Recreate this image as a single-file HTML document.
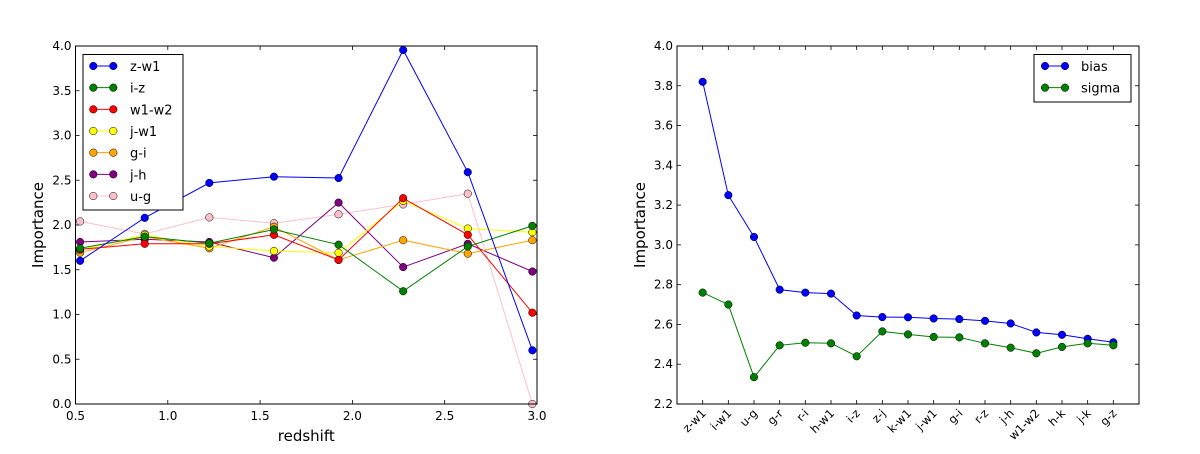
<!DOCTYPE html>
<html><head><meta charset="utf-8"><style>
html,body{margin:0;padding:0;background:#fff;}
svg text{font-family:"DejaVu Sans","Liberation Sans",sans-serif;fill:#000;}
</style></head><body>
<svg id="fig" width="1200" height="449" viewBox="0 0 1200 449" xmlns="http://www.w3.org/2000/svg">
<g id="left"></g>
<g id="right"></g>
</svg>
<script>
// Left chart data
const redshifts = [0.525, 0.875, 1.225, 1.575, 1.925, 2.275, 2.625, 2.975];
const seriesNames = ["z-w1","i-z","w1-w2","j-w1","g-i","j-h","u-g"];
const seriesColors = ["#0000ff","#008000","#ff0000","#ffff00","#ffa500","#800080","#ffc0cb"];
const zw1 = [1.60, 2.08, 2.47, 2.54, 2.525, 3.955, 2.59, 0.60];
const iz  = [1.74, 1.87, 1.795, 1.95, 1.78, 1.26, 1.76, 1.99];
const w1w2 = [1.73, 1.79, 1.79, 1.89, 1.61, 2.30, 1.89, 1.02];
const jw1 = [1.72, 1.89, 1.76, 1.71, 1.69, 2.27, 1.96, 1.92];
const gi  = [1.69, 1.87, 1.74, 1.98, 1.61, 1.83, 1.68, 1.83];
const jh  = [1.81, 1.84, 1.81, 1.635, 2.25, 1.53, 1.79, 1.48];
const ug  = [2.04, 1.90, 2.085, 2.02, 2.12, 2.23, 2.35, 0.0];
const leftXTicks = [0.5, 1.0, 1.5, 2.0, 2.5, 3.0];
const leftYTicks = [0.0, 0.5, 1.0, 1.5, 2.0, 2.5, 3.0, 3.5, 4.0];
// Right chart data
const features = ["z-w1","i-w1","u-g","g-r","r-i","h-w1","i-z","z-j","k-w1","j-w1","g-i","r-z","j-h","w1-w2","h-k","j-k","g-z"];
const bias  = [3.82, 3.25, 3.04, 2.775, 2.76, 2.755, 2.645, 2.637, 2.636, 2.63, 2.627, 2.618, 2.605, 2.56, 2.548, 2.528, 2.51];
const sigma = [2.76, 2.70, 2.335, 2.495, 2.508, 2.505, 2.44, 2.565, 2.55, 2.537, 2.535, 2.505, 2.483, 2.455, 2.487, 2.505, 2.495];
const rightYTicks = [2.2, 2.4, 2.6, 2.8, 3.0, 3.2, 3.4, 3.6, 3.8, 4.0];

const NS = "http://www.w3.org/2000/svg";
function mk(parent, tag, attrs, text){
  const e = document.createElementNS(NS, tag);
  for (const k in attrs) e.setAttribute(k, attrs[k]);
  if (text !== undefined) e.textContent = text;
  parent.appendChild(e);
  return e;
}

// ---------- Left ----------
const L = document.getElementById('left');
const lx0=75.5, lx1=537, ly0=46, ly1=404;
const lxs = v => lx0 + (v-0.5)/2.5*(lx1-lx0);
const lys = v => ly1 - v/4*(ly1-ly0);
leftXTicks.forEach(t=>{
  const x=lxs(t);
  const tk=mk(L,'line',{x1:x,x2:x,y1:ly1,y2:ly1-4,stroke:'#000','stroke-width':0.8});
  
  
  mk(L,'line',{x1:x,x2:x,y1:ly0,y2:ly0+4,stroke:'#000','stroke-width':0.8});
  const lb=mk(L,'text',{x:x,y:ly1+16,'font-size':12,'text-anchor':'middle'},t.toFixed(1));
  
  
});
leftYTicks.forEach(t=>{
  const y=lys(t);
  mk(L,'line',{x1:lx0,x2:lx0+4,y1:y,y2:y,stroke:'#000','stroke-width':0.8});
  mk(L,'line',{x1:lx1,x2:lx1-4,y1:y,y2:y,stroke:'#000','stroke-width':0.8});
  const lb=mk(L,'text',{x:lx0-4,y:y+4,'font-size':12,'text-anchor':'end'},t.toFixed(1));
  
  
});
const lxt=mk(L,'text',{x:(lx0+lx1)/2,y:441,'font-size':15,'text-anchor':'middle'},'redshift');


const lyt=mk(L,'text',{x:0,y:0,'font-size':15,'text-anchor':'middle',transform:`translate(43,${(ly0+ly1)/2}) rotate(-90)`},'Importance');



const allSeries=[zw1,iz,w1w2,jw1,gi,jh,ug];
const drawOrder=[6,5,4,3,2,1,0];
drawOrder.forEach(si=>{
  const vals=allSeries[si], col=seriesColors[si];
  const g=mk(L,'g',{});
  
  
  const pts=vals.map((v,i)=>lxs(redshifts[i]).toFixed(1)+','+lys(v).toFixed(1)).join(' ');
  mk(g,'polyline',{points:pts,fill:'none',stroke:col,'stroke-width':1});
  vals.forEach((v,i)=>{
    const c=mk(g,'circle',{cx:lxs(redshifts[i]),cy:lys(v),r:3.8,fill:col,stroke:'#000','stroke-width':0.5});
    
    
  });
});
mk(L,'rect',{x:lx0,y:ly0,width:lx1-lx0,height:ly1-ly0,fill:'none',stroke:'#000','stroke-width':1});
// legend
const lg=mk(L,'g',{});


mk(lg,'rect',{x:83,y:54.5,width:100,height:155.5,fill:'#fff',stroke:'#000','stroke-width':1});
seriesNames.forEach((n,i)=>{
  const y=66+i*21.67, col=seriesColors[i];
  const e=mk(lg,'g',{});
  
  
  mk(e,'line',{x1:93.3,x2:113.3,y1:y,y2:y,stroke:col,'stroke-width':1});
  mk(e,'circle',{cx:93.3,cy:y,r:3.8,fill:col,stroke:'#000','stroke-width':0.5});
  mk(e,'circle',{cx:113.3,cy:y,r:3.8,fill:col,stroke:'#000','stroke-width':0.5});
  mk(e,'text',{x:130,y:y+5,'font-size':13},n);
});

// ---------- Right ----------
const R=document.getElementById('right');
const rx0=677, rx1=1139, ry0=46, ry1=404;
const rxs=i=> rx0 + (i+1)/18*(rx1-rx0);
const rys=v=> ry1 - (v-2.2)/1.8*(ry1-ry0);
features.forEach((f,i)=>{
  const x=rxs(i);
  mk(R,'line',{x1:x,x2:x,y1:ry1,y2:ry1-4,stroke:'#000','stroke-width':0.8});
  mk(R,'line',{x1:x,x2:x,y1:ry0,y2:ry0+4,stroke:'#000','stroke-width':0.8});
  const lb=mk(R,'text',{x:0,y:0,'font-size':11.5,'text-anchor':'end',transform:`translate(${x+4},${ry1+10}) rotate(-45)`},f);
  
  
});
rightYTicks.forEach(t=>{
  const y=rys(t);
  mk(R,'line',{x1:rx0,x2:rx0+4,y1:y,y2:y,stroke:'#000','stroke-width':0.8});
  mk(R,'line',{x1:rx1,x2:rx1-4,y1:y,y2:y,stroke:'#000','stroke-width':0.8});
  const lb=mk(R,'text',{x:rx0-4,y:y+4,'font-size':12,'text-anchor':'end'},t.toFixed(1));
  
  
});
const ryt=mk(R,'text',{x:0,y:0,'font-size':15,'text-anchor':'middle',transform:`translate(645,${(ry0+ry1)/2}) rotate(-90)`},'Importance');


[[bias,'#0000ff','bias'],[sigma,'#008000','sigma']].forEach(([vals,col,nm])=>{
  const g=mk(R,'g',{});
  
  
  mk(g,'polyline',{points:vals.map((v,i)=>rxs(i).toFixed(1)+','+rys(v).toFixed(1)).join(' '),fill:'none',stroke:col,'stroke-width':1});
  vals.forEach((v,i)=>{
    const c=mk(g,'circle',{cx:rxs(i),cy:rys(v),r:3.8,fill:col,stroke:'#000','stroke-width':0.5});
    
    
  });
});
mk(R,'rect',{x:rx0,y:ry0,width:rx1-rx0,height:ry1-ry0,fill:'none',stroke:'#000','stroke-width':1});
const rg=mk(R,'g',{});


mk(rg,'rect',{x:1034,y:54.5,width:97,height:47.5,fill:'#fff',stroke:'#000','stroke-width':1});
[['bias','#0000ff'],['sigma','#008000']].forEach(([n,col],i)=>{
  const y=66+i*21.67;
  const e=mk(rg,'g',{});
  
  
  mk(e,'line',{x1:1045,x2:1065,y1:y,y2:y,stroke:col,'stroke-width':1});
  mk(e,'circle',{cx:1045,cy:y,r:3.8,fill:col,stroke:'#000','stroke-width':0.5});
  mk(e,'circle',{cx:1065,cy:y,r:3.8,fill:col,stroke:'#000','stroke-width':0.5});
  mk(e,'text',{x:1081,y:y+5,'font-size':13},n);
});
</script>
</body></html>
